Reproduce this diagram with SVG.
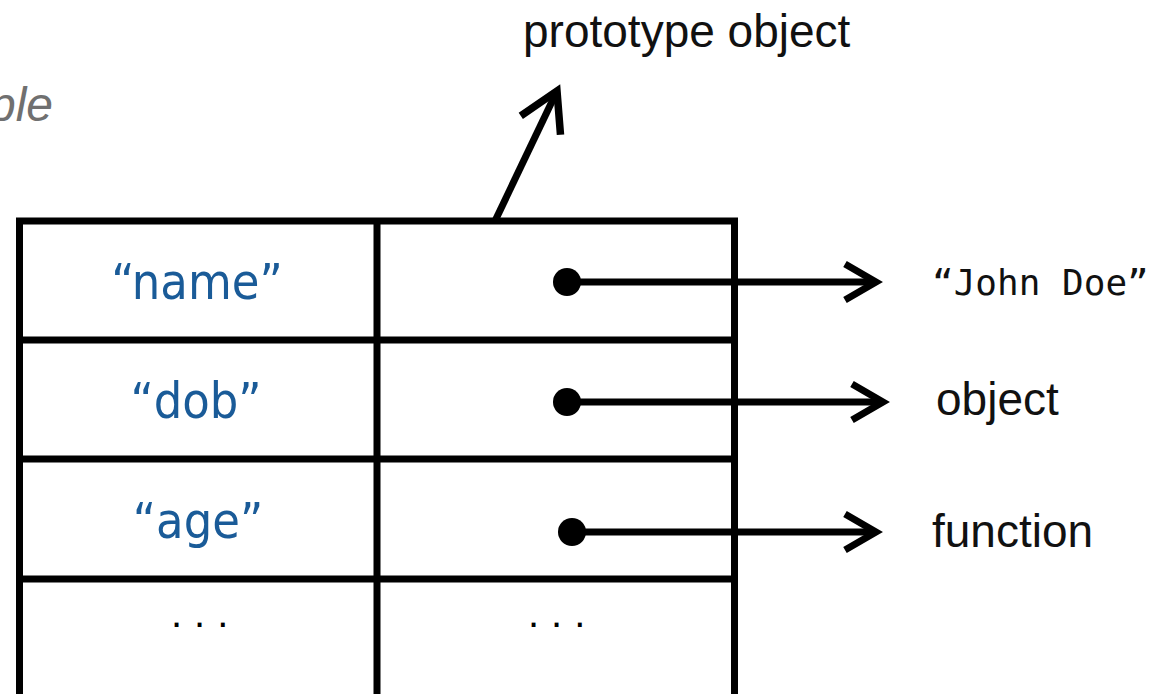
<svg xmlns="http://www.w3.org/2000/svg" width="1168" height="694" viewBox="0 0 1168 694">
<style>
.grid{stroke:#000;stroke-width:7;fill:none;stroke-linecap:square}
.key{font-family:"DejaVu Sans Condensed","DejaVu Sans",sans-serif;font-size:50px;fill:#1a5b98;text-anchor:middle}
.lbl{font-family:"Liberation Sans",Arial,sans-serif;font-size:46px;fill:#111}
.mono{font-family:"DejaVu Sans Mono","Liberation Mono",monospace;font-size:36px;fill:#111}
.dots{font-family:"Liberation Sans",Arial,sans-serif;font-size:40px;fill:#000;letter-spacing:12px}
.edge{stroke:#000;stroke-width:7;fill:none}
</style>
<defs>
<marker id="arrow" markerUnits="userSpaceOnUse" overflow="visible" orient="auto" refX="0" refY="0" markerWidth="1" markerHeight="1">
<path d="M-31,-18 L0,0 L-31,18" fill="none" stroke="#000" stroke-width="7" stroke-miterlimit="10"/>
</marker>
<marker id="arrowBig" markerUnits="userSpaceOnUse" overflow="visible" orient="auto" refX="0" refY="0" markerWidth="1" markerHeight="1">
<path d="M-38,-22 L0,0 L-38,22" fill="none" stroke="#000" stroke-width="7.5" stroke-miterlimit="10"/>
</marker>
<marker id="dot" markerUnits="userSpaceOnUse" overflow="visible" refX="0" refY="0" markerWidth="1" markerHeight="1">
<circle cx="0" cy="0" r="14" fill="#000"/>
</marker>
</defs>
<rect width="1168" height="694" fill="#fff"/>
<g id="caption">
<text x="53" y="121" font-family="Liberation Sans,Arial,sans-serif" font-style="italic" font-size="48" fill="#707070" text-anchor="end">ple</text>
</g>
<g id="table">
<path class="grid" d="M19.5,221 V700 M734.5,221 V700 M19.5,221 H734.5 M377,221 V700 M19.5,340 H734.5 M19.5,459 H734.5 M19.5,579 H734.5"/>
</g>
<g id="key-name"><text class="key" x="197" y="299">“name”</text></g>
<g id="key-dob"><text class="key" x="196" y="418">“dob”</text></g>
<g id="key-age"><text class="key" x="198" y="538">“age”</text></g>
<g id="key-more"><text class="dots" x="171" y="627">...</text></g>
<g id="val-more"><text class="dots" x="528" y="627">...</text></g>
<g id="prototype"><text class="lbl" x="523" y="47">prototype object</text></g>
<g id="john"><text class="mono" x="932" y="295">“John Doe”</text></g>
<g id="object"><text class="lbl" x="936" y="415">object</text></g>
<g id="function"><text class="lbl" x="932" y="547">function</text></g>
<g id="connectors">
<path class="edge" d="M495,221 L557,91" marker-end="url(#arrowBig)"/>
<path class="edge" d="M567,282 H876" marker-start="url(#dot)" marker-end="url(#arrow)"/>
<path class="edge" d="M567,402 H883" marker-start="url(#dot)" marker-end="url(#arrow)"/>
<path class="edge" d="M572,532 H876" marker-start="url(#dot)" marker-end="url(#arrow)"/>
</g>
</svg>
